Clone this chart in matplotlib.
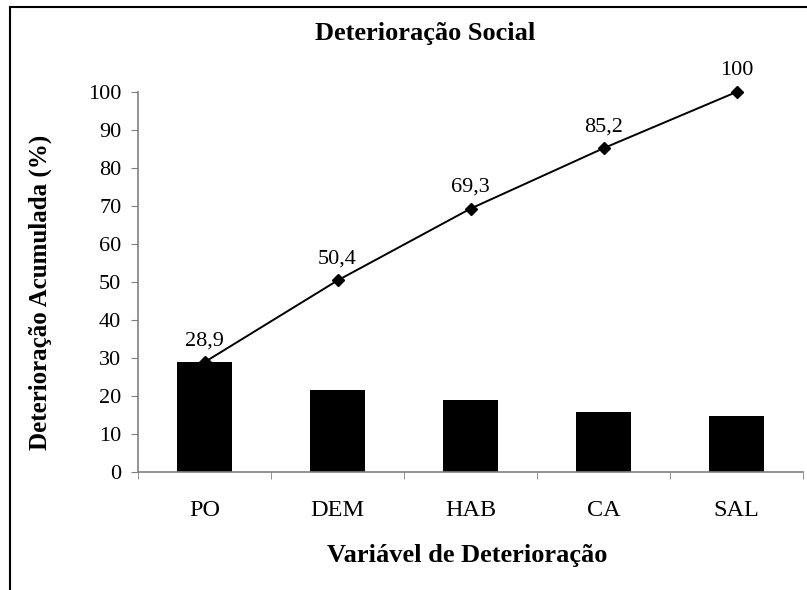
import matplotlib.pyplot as plt
from matplotlib.patches import Rectangle

categories = ["PO", "DEM", "HAB", "CA", "SAL"]
bar_values = [28.9, 21.5, 18.9, 15.9, 14.8]
cumulative = [28.9, 50.4, 69.3, 85.2, 100]
cum_labels = ["28,9", "50,4", "69,3", "85,2", "100"]
yticks = list(range(0, 101, 10))

plt.rcParams["font.family"] = ["Liberation Serif", "DejaVu Serif"]

fig = plt.figure(figsize=(8.07, 5.90), dpi=100)
ax = fig.add_axes([138 / 807, 1 - 472 / 590, (803 - 138) / 807, (472 - 92) / 590])

x = list(range(len(categories)))
ax.bar(x, bar_values, width=0.42, color="black", zorder=2)
ax.plot(x, cumulative, color="black", linewidth=1.4, marker="D", markersize=6,
        zorder=3, clip_on=False)
for xi, yi, lab in zip(x, cumulative, cum_labels):
    ax.annotate(lab, (xi, yi), xytext=(0, 12), textcoords="offset points",
                ha="center", va="baseline", fontsize=16)

ax.set_xlim(-0.5, len(categories) - 0.5)
ax.set_ylim(0, 100)
ax.set_yticks(yticks)
ax.set_xticks(x)
ax.set_xticklabels(categories, fontsize=17.5)
ax.set_xticks([i - 0.5 for i in range(len(categories) + 1)], minor=True)
ax.tick_params(axis="x", which="major", length=0, pad=20)
ax.tick_params(axis="x", which="minor", length=5, direction="out", color="#808080")
ax.tick_params(axis="y", length=5, direction="out", color="#808080", labelsize=16, pad=7)

for side in ["top", "right"]:
    ax.spines[side].set_visible(False)
for side in ["left", "bottom"]:
    ax.spines[side].set_color("#808080")
    ax.spines[side].set_linewidth(1.2)

fig.text(40 / 807, 1 - 292 / 590, "Deterioração Acumulada (%)", rotation=90,
         ha="center", va="center", fontsize=18, fontweight="bold")
fig.text(467 / 807, 1 - 562 / 590, "Variável de Deterioração",
         ha="center", va="baseline", fontsize=19, fontweight="bold")
fig.text(425 / 807, 1 - 40 / 590, "Deterioração Social",
         ha="center", va="baseline", fontsize=19, fontweight="bold")

fig.patches.append(Rectangle((10 / 807, -0.1), 1.2, 1.1 - 7 / 590,
                             transform=fig.transFigure, fill=False,
                             edgecolor="black", linewidth=1.5))

fig.savefig("out.png", dpi=100)
